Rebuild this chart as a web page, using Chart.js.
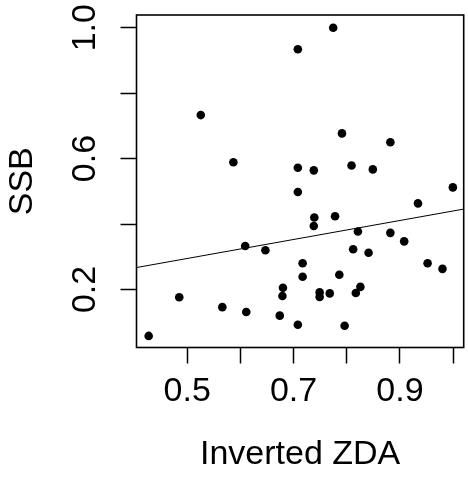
<!DOCTYPE html>
<html>
<head>
<meta charset="utf-8">
<script src="https://cdn.jsdelivr.net/npm/chart.js@4/dist/chart.umd.min.js"></script>
<style>
html,body{margin:0;padding:0;background:#fff;}
canvas{display:block;}
</style>
</head>
<body>
<canvas id="c" width="468" height="478"></canvas>
<script>
// Data
const invertedZDA = [0.7745,0.708,0.5255,0.5868,0.708,0.738,0.791,0.882,0.809,0.849,
  0.708,0.9995,0.934,0.739,0.738,0.778,0.821,0.882,0.908,0.609,
  0.647,0.812,0.841,0.717,0.952,0.980,0.717,0.786,0.680,0.679,
  0.749,0.749,0.768,0.8256,0.817,0.485,0.566,0.611,0.674,0.708,
  0.796,0.4275];
const ssb = [1.000,0.934,0.733,0.589,0.572,0.564,0.677,0.650,0.579,0.567,
  0.498,0.512,0.463,0.420,0.394,0.424,0.377,0.373,0.347,0.333,
  0.320,0.323,0.312,0.280,0.280,0.263,0.239,0.245,0.205,0.180,
  0.191,0.177,0.188,0.208,0.189,0.176,0.146,0.131,0.120,0.092,
  0.089,0.058];
// Fitted line endpoints (read at the plot edges)
const fitX = [0.4046, 1.0199];
const fitY = [0.267, 0.4456];
// Axes
const xRange = [0.4046, 1.0199];
const yRange = [0.0226, 1.0389];
const xTickValues = [0.5,0.6,0.7,0.8,0.9,1.0];
const xTickLabels = ['0.5','','0.7','','0.9',''];
const yTickValues = [0.2,0.4,0.6,0.8,1.0];
const yTickLabels = ['0.2','','0.6','','1.0'];
const xTitle = 'Inverted ZDA';
const yTitle = 'SSB';

const FONT = {family: "'Liberation Sans', Arial, sans-serif", size: 34};

const boxPlugin = {
  id: 'box',
  afterDraw(chart){
    const a = chart.chartArea, ctx = chart.ctx;
    ctx.save();
    ctx.strokeStyle = '#000';
    ctx.lineWidth = 1.6;
    ctx.strokeRect(a.left, a.top, a.right - a.left, a.bottom - a.top);
    ctx.restore();
  }
};

function zeroPad(s){ s.paddingTop=0; s.paddingBottom=0; s.paddingLeft=0; s.paddingRight=0; }

new Chart(document.getElementById('c'), {
  data: {
    datasets: [
      {
        type: 'scatter',
        data: invertedZDA.map((x,i)=>({x, y: ssb[i]})),
        pointRadius: 4.3,
        pointHoverRadius: 4.3,
        pointBackgroundColor: '#000',
        pointBorderColor: '#000',
        pointBorderWidth: 0,
        order: 1
      },
      {
        type: 'line',
        data: fitX.map((x,i)=>({x, y: fitY[i]})),
        borderColor: '#000',
        borderWidth: 1,
        pointRadius: 0,
        fill: false,
        order: 2
      }
    ]
  },
  options: {
    responsive: false,
    animation: false,
    events: [],
    layout: {padding: {top: 15, right: 1, left: 0, bottom: 0}},
    plugins: {legend: {display: false}, tooltip: {enabled: false}},
    scales: {
      x: {
        type: 'linear',
        min: xRange[0], max: xRange[1],
        afterBuildTicks: s => { s.ticks = xTickValues.map(v=>({value:v})); },
        afterFit: s => { s.height = 130.5; zeroPad(s); },
        border: {display: false},
        grid: {display: true, drawOnChartArea: false, drawTicks: true, tickLength: 16, tickColor: '#000', tickWidth: 1.5},
        ticks: {
          color: '#000', font: FONT, padding: 8, maxRotation: 0, autoSkip: false,
          callback: (v, i) => xTickLabels[i]
        },
        title: {display: true, text: xTitle, color: '#000', font: FONT, padding: {top: 0, bottom: 3.3}}
      },
      y: {
        type: 'linear',
        min: yRange[0], max: yRange[1],
        afterBuildTicks: s => { s.ticks = yTickValues.map(v=>({value:v})); },
        afterFit: s => { s.width = 136.5; zeroPad(s); },
        border: {display: false},
        grid: {display: true, drawOnChartArea: false, drawTicks: true, tickLength: 16, tickColor: '#000', tickWidth: 1.5},
        ticks: {
          color: '#000', font: FONT, padding: 10.8, minRotation: 90, maxRotation: 90,
          crossAlign: 'center', autoSkip: false,
          callback: (v, i) => yTickLabels[i]
        },
        title: {display: true, text: yTitle, color: '#000', font: FONT, padding: {top: 2.7, bottom: 0}}
      }
    }
  },
  plugins: [boxPlugin]
});
</script>
</body>
</html>
